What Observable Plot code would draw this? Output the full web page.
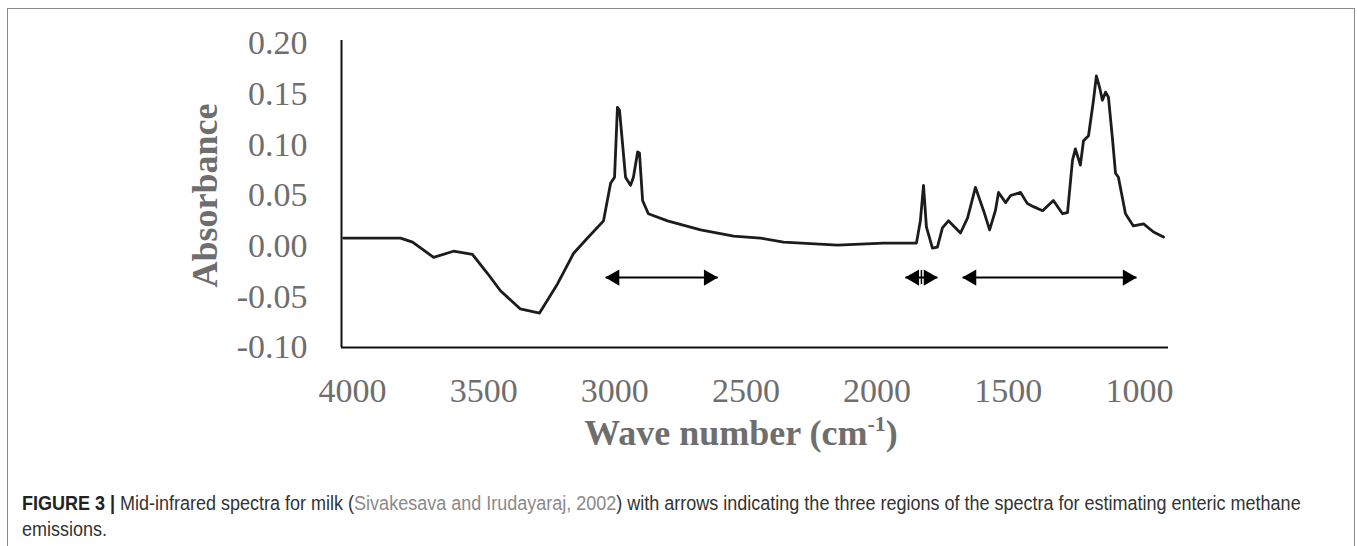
<!DOCTYPE html>
<html><head><meta charset="utf-8">
<script src="https://cdn.jsdelivr.net/npm/d3@7"></script>
<script src="https://cdn.jsdelivr.net/npm/@observablehq/plot@0.6"></script>
<style>
html,body{margin:0;padding:0;background:#fff;width:1357px;height:546px;overflow:hidden;}
#frame{position:absolute;left:7px;top:8px;width:1348px;height:600px;border:1.5px solid #8a8a8a;box-sizing:border-box;}
#chart{position:absolute;left:0;top:0;}
#caption{position:absolute;left:22px;top:490px;width:1475px;font-family:"Liberation Sans Narrow","Arial Narrow","Liberation Sans",sans-serif;font-size:20px;line-height:26px;color:#333;transform:scaleX(0.9);transform-origin:0 0;}
#caption b{color:#222;}
#caption .cite{color:#8a8a8a;}
</style></head><body>
<div id="frame"></div>
<div id="chart"></div>
<div id="caption"><b>FIGURE 3 |</b> Mid-infrared spectra for milk (<span class="cite">Sivakesava and Irudayaraj, 2002</span>) with arrows indicating the three regions of the spectra for estimating enteric methane emissions.</div>
<script>
// Wave number (cm-1) and absorbance
const waveNumber = [4034,3817,3771,3691,3615,3543,3485,3436,3360,3287,3218,3157,3104,3043,3016,3001,2990,2982,2959,2940,2929,2913,2906,2894,2872,2799,2673,2547,2445,2357,2151,1976,1850,1835,1823,1812,1789,1770,1751,1728,1682,1655,1625,1594,1571,1549,1537,1510,1491,1453,1427,1404,1369,1328,1293,1274,1255,1244,1225,1213,1194,1175,1164,1152,1141,1129,1118,1103,1091,1080,1053,1023,984,946,908];
const absorbance = [0.008,0.008,0.004,-0.011,-0.005,-0.008,-0.027,-0.044,-0.062,-0.066,-0.037,-0.007,0.008,0.025,0.062,0.068,0.137,0.134,0.068,0.060,0.068,0.093,0.092,0.045,0.032,0.025,0.016,0.010,0.008,0.004,0.001,0.003,0.003,0.025,0.060,0.019,-0.002,-0.001,0.018,0.025,0.013,0.028,0.058,0.035,0.016,0.035,0.053,0.043,0.050,0.053,0.042,0.039,0.035,0.045,0.032,0.033,0.085,0.096,0.080,0.104,0.109,0.144,0.168,0.157,0.144,0.152,0.147,0.107,0.072,0.068,0.032,0.020,0.022,0.014,0.009];

// Region arrows (wave numbers)
const arrowFrom = [3035, 1892, 1674];
const arrowTo = [2608, 1770, 1011];
const arrowLevel = -0.031;
const dividerX = [1831];

// Axes
const xTicks = [4000, 3500, 3000, 2500, 2000, 1500, 1000];
const yTicks = [-0.10, -0.05, 0.00, 0.05, 0.10, 0.15, 0.20];
const xDomain = [4042, 889];
const yDomain = [-0.10, 0.20];

const spectrum = waveNumber.map((w, i) => ({w, a: absorbance[i]}));
const arrows = arrowFrom.map((f, i) => ({x1: f, x2: arrowTo[i], y: arrowLevel}));
const gray = "#6e6e6e";
const serif = "'Liberation Serif','Times New Roman',serif";

const chart = Plot.plot({
  width: 1357, height: 460,
  marginLeft: 341, marginRight: 189, marginTop: 43, marginBottom: 113,
  x: {domain: xDomain},
  y: {domain: yDomain},
  style: {fontFamily: serif, background: "transparent"},
  marks: [
    Plot.axisY({ticks: yTicks, tickFormat: d => d.toFixed(2), tickSize: 0, tickPadding: 34, fontSize: 34, color: gray, fill: gray, label: null}),
    Plot.axisX({ticks: xTicks, tickFormat: d => String(d), tickSize: 0, tickPadding: 30, fontSize: 34, color: gray, fill: gray, label: null}),
    Plot.ruleY([yDomain[0]], {stroke: "#111", strokeWidth: 2}),
    Plot.ruleX([xDomain[0]], {y1: yDomain[0], y2: 0.203, stroke: "#111", strokeWidth: 2}),
    Plot.line(spectrum, {x: "w", y: "a", stroke: "#1c1c1c", strokeWidth: 2.8, strokeLinejoin: "round"}),
    Plot.link(arrows, {x1: "x1", x2: "x2", y1: "y", y2: "y", stroke: "#000", strokeWidth: 2}),
    Plot.dot(arrows, {x: "x1", y: "y", symbol: "triangle", r: 6, fill: "#000", stroke: "none", rotate: -90, dx: 9}),
    Plot.dot(arrows, {x: "x2", y: "y", symbol: "triangle", r: 6, fill: "#000", stroke: "none", rotate: 90, dx: -9}),
    Plot.ruleX(dividerX, {y1: arrowLevel - 0.007, y2: arrowLevel + 0.007, stroke: "#000", strokeWidth: 1.5}),
    Plot.text(["Absorbance"], {frameAnchor: "left", textAnchor: "middle", dx: -136, rotate: -90, fontSize: 36, fontWeight: "bold", fill: gray})
  ]
});

const svg = d3.select(chart);
const t = svg.append("text")
  .attr("x", 741).attr("y", 445)
  .attr("text-anchor", "middle")
  .attr("font-family", serif)
  .attr("font-size", 36).attr("font-weight", "bold")
  .attr("fill", gray);
t.append("tspan").text("Wave number (cm");
t.append("tspan").attr("font-size", 22).attr("dy", -14).text("-1");
t.append("tspan").attr("dy", 14).text(")");

document.getElementById("chart").appendChild(chart);
</script>
</body></html>
